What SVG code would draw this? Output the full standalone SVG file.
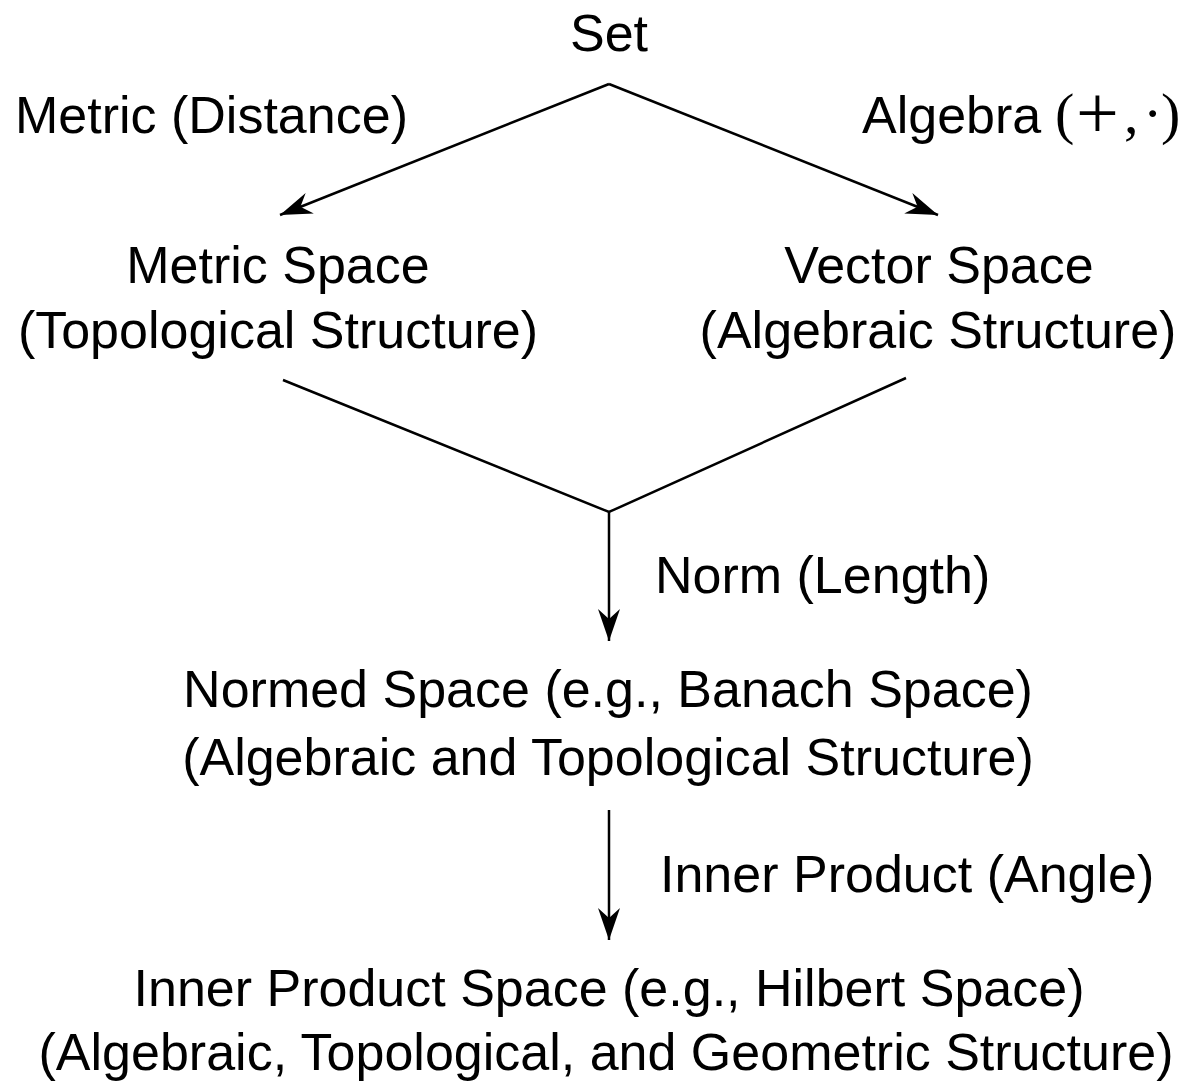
<svg xmlns="http://www.w3.org/2000/svg" width="1184" height="1083" viewBox="0 0 1184 1083">
<style>
text{font-family:"Liberation Sans",Arial,sans-serif;font-size:52px;fill:#000}
.c{text-anchor:middle}
.m{font-family:"Liberation Serif","DejaVu Serif",serif;font-size:58px}
.p{font-family:"Liberation Serif","DejaVu Serif",serif;font-size:76px}
.ln{stroke:#000;stroke-width:2.5;fill:none}
</style>
<defs>
<marker id="ah" markerUnits="userSpaceOnUse" markerWidth="40" markerHeight="30" refX="0" refY="0" orient="auto" overflow="visible">
<path d="M0,0 L-32,-11 L-22,0 L-32,11 Z" fill="#000"/>
</marker>
</defs>
<rect width="1184" height="1083" fill="#fff"/>
<g id="connectors">
<line class="ln" x1="609" y1="84" x2="280" y2="215" marker-end="url(#ah)"/>
<line class="ln" x1="609" y1="84" x2="938" y2="215" marker-end="url(#ah)"/>
<polyline class="ln" points="283,380 609,512 906,378"/>
<line class="ln" x1="609" y1="512" x2="609" y2="641" marker-end="url(#ah)"/>
<line class="ln" x1="609" y1="810" x2="609" y2="940" marker-end="url(#ah)"/>
</g>
<g id="labels">
<text x="15" y="133">Metric (Distance)</text>
<text x="862" y="133">Algebra</text>
<text class="m" x="1055" y="133">(</text>
<text class="p" x="1076" y="138">+</text>
<text class="m" x="1124" y="133">,</text>
<text class="m" x="1143" y="133">·</text>
<text class="m" x="1161" y="133">)</text>
<text x="655" y="593">Norm (Length)</text>
<text x="660" y="892">Inner Product (Angle)</text>
</g>
<g id="set"><text class="c" x="609" y="51">Set</text></g>
<g id="metric-space">
<text class="c" x="278" y="283">Metric Space</text>
<text class="c" x="278" y="348">(Topological Structure)</text>
</g>
<g id="vector-space">
<text class="c" x="939" y="283">Vector Space</text>
<text class="c" x="938" y="348">(Algebraic Structure)</text>
</g>
<g id="normed-space">
<text class="c" x="608" y="707">Normed Space (e.g., Banach Space)</text>
<text class="c" x="608" y="775">(Algebraic and Topological Structure)</text>
</g>
<g id="inner-product-space">
<text class="c" x="609" y="1006">Inner Product Space (e.g., Hilbert Space)</text>
<text class="c" x="606" y="1070">(Algebraic, Topological, and Geometric Structure)</text>
</g>
</svg>
